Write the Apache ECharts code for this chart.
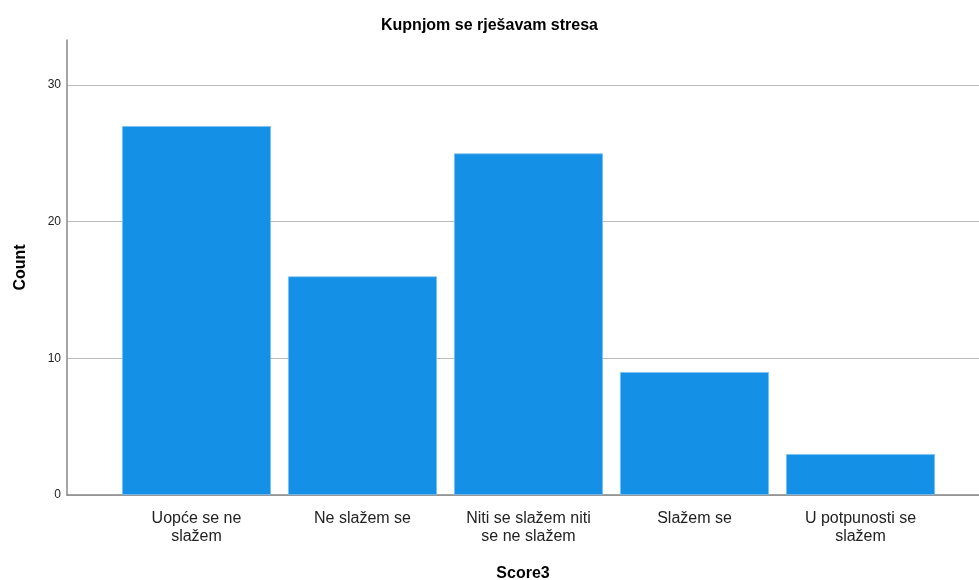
<!DOCTYPE html>
<html>
<head>
<meta charset="utf-8">
<script src="https://cdn.jsdelivr.net/npm/echarts@6/dist/echarts.min.js"></script>
<style>
  html, body { margin: 0; padding: 0; background: #fff; }
  #chart { width: 979px; height: 580px; }
</style>
</head>
<body>
<div id="chart"></div>
<script>
// data
const categories = [
  "Uopće se ne\nslažem",
  "Ne slažem se",
  "Niti se slažem niti\nse ne slažem",
  "Slažem se",
  "U potpunosti se\nslažem"
];
const counts = [27, 16, 25, 9, 3];
const yTicks = [0, 10, 20, 30];

const yMax = 33.3;
const font = "'Liberation Sans', Arial, sans-serif";

const chart = echarts.init(document.getElementById("chart"));
chart.setOption({
  backgroundColor: "#fff",
  animation: false,
  title: {
    text: "Kupnjom se rješavam stresa",
    left: "center",
    top: 13,
    textStyle: { fontFamily: font, fontSize: 16, fontWeight: "bold", color: "#000" }
  },
  grid: [
    // frame grid: y axis, gridlines and x axis line
    { left: 67, right: 0, top: 40, bottom: 85, outerBoundsMode: "none" },
    // bars grid
    { left: 113.5, width: 830, top: 40, bottom: 85, outerBoundsMode: "none" }
  ],
  xAxis: [
    {
      gridIndex: 0,
      type: "value",
      min: 0,
      max: 1,
      axisLine: { show: true, lineStyle: { color: "#888", width: 1.5 } },
      axisTick: { show: false },
      axisLabel: { show: false },
      splitLine: { show: false },
      name: "Score3",
      nameLocation: "middle",
      nameGap: 71,
      nameTextStyle: { fontFamily: font, fontSize: 16, fontWeight: "bold", color: "#000" }
    },
    {
      gridIndex: 1,
      type: "category",
      data: categories,
      axisLine: { show: false },
      axisTick: { show: false },
      axisLabel: {
        interval: 0,
        margin: 15,
        fontFamily: font,
        fontSize: 16,
        lineHeight: 18,
        color: "#222",
        align: "center"
      }
    }
  ],
  yAxis: [
    {
      gridIndex: 0,
      type: "value",
      min: 0,
      max: yMax,
      interval: 10,
      axisLine: { show: true, lineStyle: { color: "#888", width: 1.5 } },
      axisTick: { show: false },
      axisLabel: {
        fontFamily: font,
        fontSize: 12,
        color: "#222",
        margin: 6,
        showMaxLabel: false,
        formatter: (v) => (yTicks.includes(v) ? String(v) : "")
      },
      splitLine: { show: true, showMaxLine: false, lineStyle: { color: "#bbb", width: 1 } },
      name: "Count",
      nameLocation: "middle",
      nameGap: 38,
      nameRotate: 90,
      nameTextStyle: { fontFamily: font, fontSize: 16, fontWeight: "bold", color: "#000" }
    },
    {
      gridIndex: 1,
      type: "value",
      min: 0,
      max: yMax,
      show: false
    }
  ],
  series: [
    {
      type: "bar",
      xAxisIndex: 1,
      yAxisIndex: 1,
      data: counts,
      barWidth: 149,
      itemStyle: { color: "#1490e6", borderColor: "#7fc1f0", borderWidth: 0.8 }
    }
  ]
});
</script>
</body>
</html>
